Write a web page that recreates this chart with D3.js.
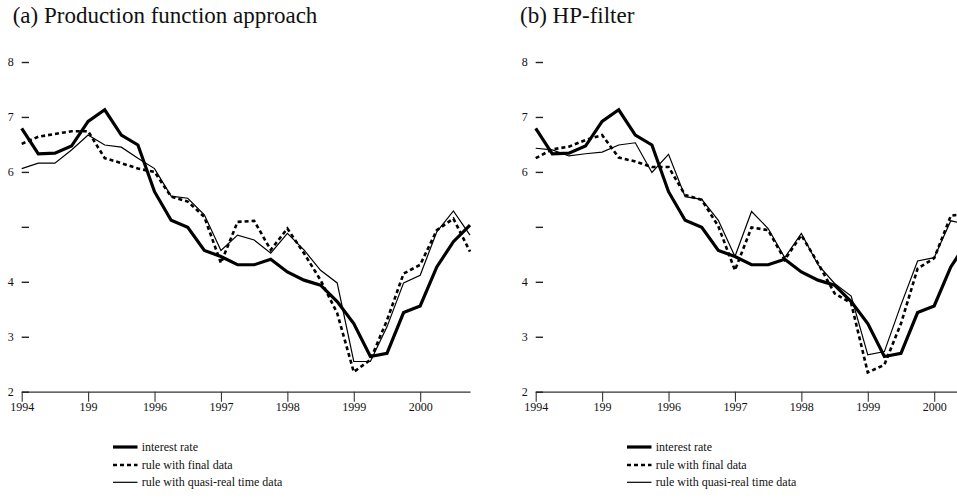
<!DOCTYPE html>
<html>
<head>
<meta charset="utf-8">
<script src="https://cdn.jsdelivr.net/npm/d3@7"></script>
<style>
  html, body { margin: 0; padding: 0; background: #fff; }
  svg { display: block; }
  text { font-family: "Liberation Serif", "Times New Roman", serif; fill: #111; }
</style>
</head>
<body>
<svg id="chart" width="957" height="498"></svg>
<script>
// Quarterly observations 1994Q1 .. 2000Q4
const quarters = d3.range(28).map(i => 1994 + i / 4);

const xTickValues = [1994, 1995, 1996, 1997, 1998, 1999, 2000];
const xTickLabels = ["1994", "199", "1996", "1997", "1998", "1999", "2000"];
const yTickValues = [2, 3, 4, 5, 6, 7, 8];
const yTickLabels = ["2", "3", "4", "", "6", "7", "8"];

const panelTitles = ["(a) Production function approach", "(b) HP-filter"];
const legendLabels = ["interest rate", "rule with final data", "rule with quasi-real time data"];

const interestRate = [6.79, 6.33, 6.34, 6.47, 6.92, 7.13, 6.67, 6.49, 5.64, 5.12, 4.99, 4.57,
  4.46, 4.31, 4.31, 4.41, 4.18, 4.03, 3.94, 3.64, 3.24, 2.64, 2.70, 3.44, 3.56, 4.27, 4.73, 5.03];

// (a) Production function approach
const pfFinal = [6.51, 6.64, 6.69, 6.74, 6.74, 6.25, 6.16, 6.06, 6.00, 5.55, 5.46, 5.18,
  4.34, 5.09, 5.11, 4.58, 4.97, 4.52, 4.03, 3.43, 2.36, 2.58, 3.30, 4.15, 4.31, 4.94, 5.15, 4.55];
const pfQuasi = [6.06, 6.16, 6.16, 6.40, 6.67, 6.49, 6.45, 6.25, 6.06, 5.56, 5.52, 5.22,
  4.57, 4.85, 4.76, 4.52, 4.88, 4.58, 4.21, 3.98, 2.55, 2.55, 3.18, 3.98, 4.12, 4.91, 5.29, 4.85];

// (b) HP-filter
const hpFinal = [6.25, 6.41, 6.46, 6.58, 6.67, 6.26, 6.19, 6.09, 6.09, 5.58, 5.49, 5.01,
  4.21, 4.99, 4.94, 4.40, 4.85, 4.34, 3.79, 3.61, 2.35, 2.49, 3.24, 4.24, 4.43, 5.20, 5.25, 4.90];
const hpQuasi = [6.43, 6.40, 6.29, 6.33, 6.36, 6.49, 6.53, 5.99, 6.32, 5.55, 5.50, 5.12,
  4.46, 5.28, 4.97, 4.44, 4.88, 4.31, 3.97, 3.74, 2.67, 2.73, 3.58, 4.38, 4.44, 5.11, 5.05, 4.90];

const svg = d3.select("#chart");

const styles = [
  { width: 3.2, dash: null },
  { width: 2.6, dash: "4,3" },
  { width: 1.2, dash: null }
];

function drawPanel(offset, title, finalVals, quasiVals, titleX) {
  const g = svg.append("g").attr("transform", `translate(${offset},0)`);
  const x = d3.scaleLinear().domain([1994, 2000.75]).range([21.7, 470]);
  const y = d3.scaleLinear().domain([2, 8]).range([391.7, 62]);

  g.append("text").attr("x", titleX).attr("y", 22.7)
    .attr("font-size", 23).text(title);

  // x axis
  const xa = g.append("g").attr("transform", `translate(0,${y(2)})`)
    .call(d3.axisBottom(x).tickValues(xTickValues)
      .tickFormat((d, i) => xTickLabels[i]).tickSize(10).tickSizeOuter(0).tickPadding(1));
  xa.select(".domain").attr("stroke", "#333").attr("stroke-width", 1.3);
  xa.selectAll(".tick line").attr("stroke", "#333").attr("stroke-width", 1.1);
  xa.selectAll(".tick text").attr("font-size", 12)
    .attr("font-family", "Liberation Serif, Times New Roman, serif").attr("fill", "#111");

  // y axis (dashes only, no axis line)
  const ya = g.append("g").attr("transform", `translate(${x(1994) + 7.3},0)`)
    .call(d3.axisLeft(y).tickValues(yTickValues)
      .tickFormat((d, i) => yTickLabels[i]).tickSize(7.3).tickPadding(8));
  ya.select(".domain").remove();
  ya.selectAll(".tick line").attr("stroke", "#222").attr("stroke-width", 1.4);
  ya.selectAll(".tick text").attr("font-size", 12)
    .attr("font-family", "Liberation Serif, Times New Roman, serif").attr("fill", "#111");

  const line = d3.line().x((d, i) => x(quarters[i])).y(d => y(d));
  const seriesList = [interestRate, finalVals, quasiVals];
  // draw order: thin, dotted, thick on top
  [2, 1, 0].forEach(k => {
    g.append("path").datum(seriesList[k])
      .attr("d", line)
      .attr("fill", "none")
      .attr("stroke", "#000")
      .attr("stroke-width", styles[k].width)
      .attr("stroke-dasharray", styles[k].dash)
      .attr("stroke-linejoin", "miter");
  });

  // legend
  const legendY = [447, 465, 482.3];
  legendLabels.forEach((lab, k) => {
    g.append("line").attr("x1", 113).attr("x2", 137.5)
      .attr("y1", legendY[k]).attr("y2", legendY[k])
      .attr("stroke", "#000").attr("stroke-width", styles[k].width)
      .attr("stroke-dasharray", styles[k].dash);
    g.append("text").attr("x", 141.7).attr("y", legendY[k]).attr("dy", "0.3em")
      .attr("font-size", 12).text(lab);
  });
}

drawPanel(0, panelTitles[0], pfFinal, pfQuasi, 12.7);
drawPanel(514, panelTitles[1], hpFinal, hpQuasi, 6);
</script>
</body>
</html>
